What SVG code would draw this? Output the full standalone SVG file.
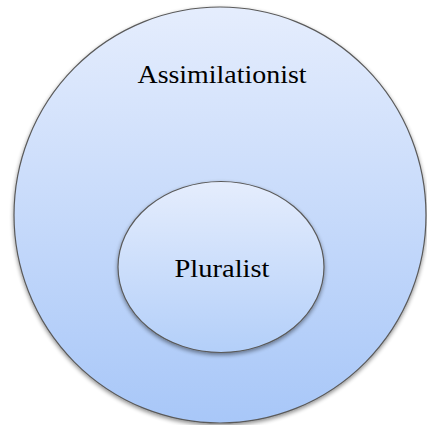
<svg xmlns="http://www.w3.org/2000/svg" width="427" height="425" viewBox="0 0 427 425">
<style>
.shape{stroke:#5a5a5a;stroke-width:1.2}
.lbl{font-family:"Liberation Serif","DejaVu Serif",serif;font-size:26px;fill:#000;text-anchor:middle}
</style>
<defs>
<linearGradient id="gOuter" x1="0" y1="0" x2="0" y2="1">
<stop offset="0" stop-color="#e5edfd"/>
<stop offset="1" stop-color="#a8c7f8"/>
</linearGradient>
<linearGradient id="gInner" x1="0" y1="0" x2="0" y2="1">
<stop offset="0" stop-color="#e5edfd"/>
<stop offset="1" stop-color="#b3cff9"/>
</linearGradient>
<filter id="sh" x="-20%" y="-20%" width="140%" height="140%">
<feGaussianBlur in="SourceAlpha" stdDeviation="2"/>
<feOffset dy="2" result="b"/>
<feComponentTransfer><feFuncA type="linear" slope="0.45"/></feComponentTransfer>
<feMerge><feMergeNode/><feMergeNode in="SourceGraphic"/></feMerge>
</filter>
</defs>
<g id="assimilationist">
<ellipse class="shape" cx="220" cy="215" rx="206" ry="208" fill="url(#gOuter)" filter="url(#sh)"/>
<text class="lbl" x="222" y="83" textLength="169" lengthAdjust="spacingAndGlyphs">Assimilationist</text>
</g>
<g id="pluralist">
<ellipse class="shape" cx="221" cy="267" rx="103" ry="85.5" fill="url(#gInner)" filter="url(#sh)"/>
<text class="lbl" x="222" y="277" textLength="95" lengthAdjust="spacingAndGlyphs">Pluralist</text>
</g>
<g id="connectors"/>
</svg>
